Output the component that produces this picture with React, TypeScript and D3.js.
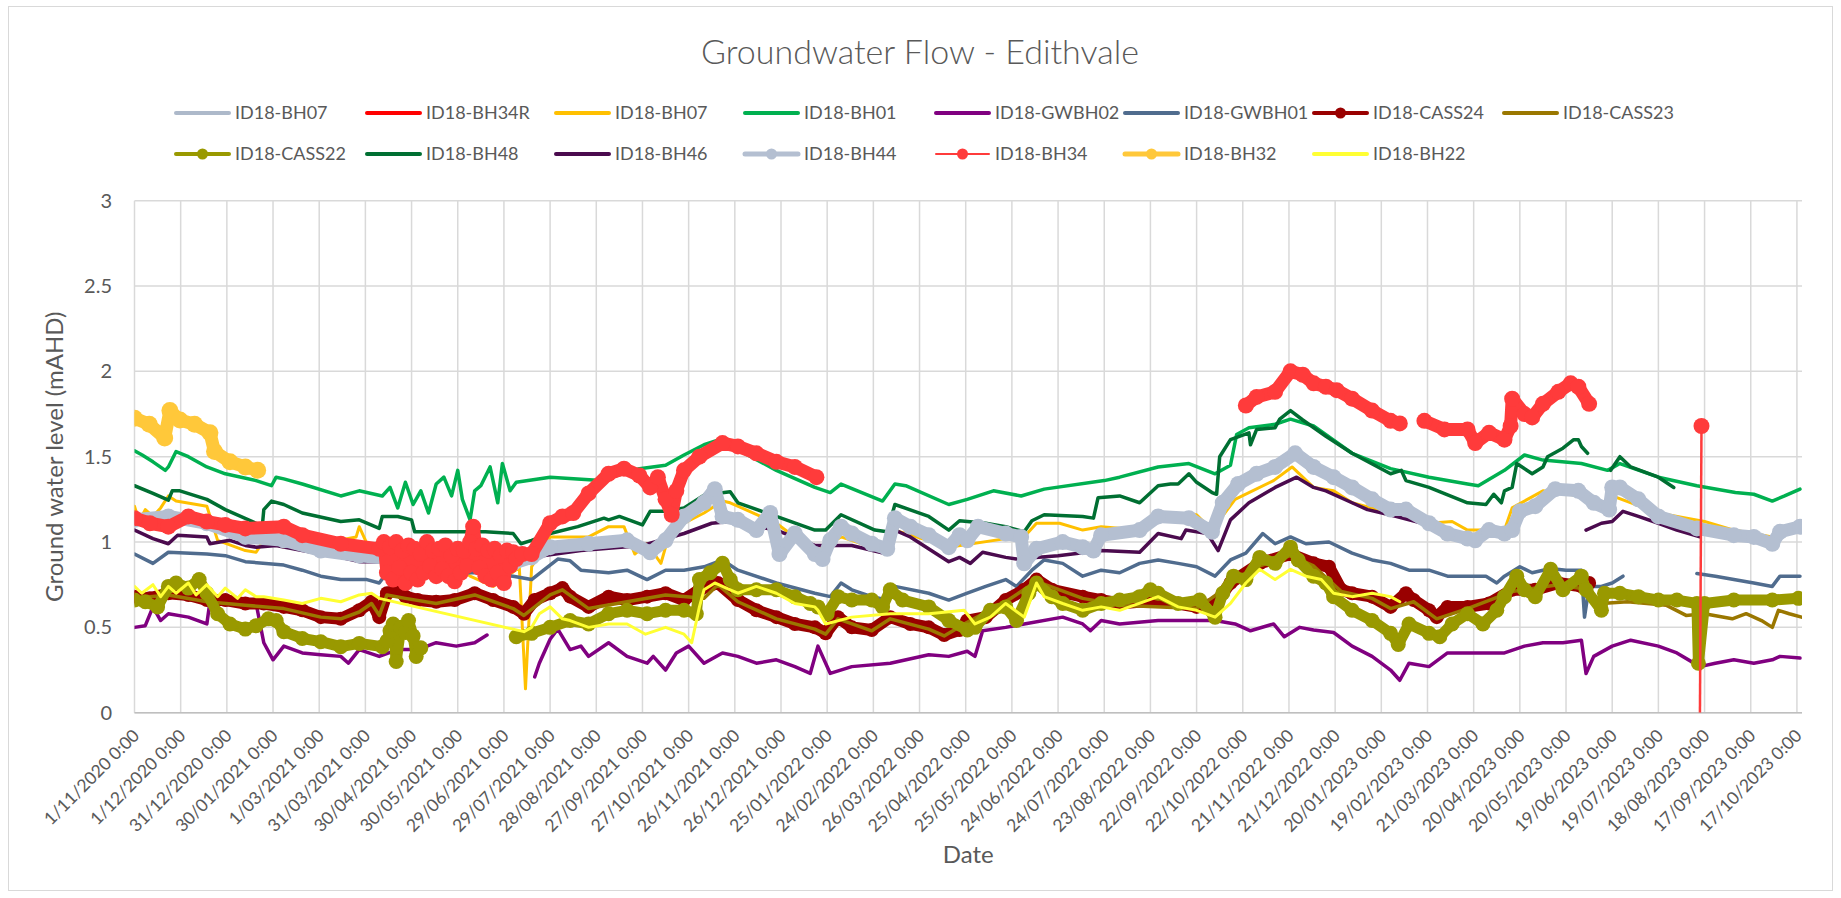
import React, { useEffect, useRef } from 'react';
import * as d3 from 'd3';

// [days since 1/11/2020, level mAHD]; null value = gap in the record
type Pt = [number, number | null];

const W = 1841;
const H = 898;
const FONT = 'Lato, "Open Sans", sans-serif';
const TEXT = '#595959';

const START = new Date(Date.UTC(2020, 10, 1));
const LAST_DAY = 1083.3;

const xTickLabels = [
  '1/11/2020', '1/12/2020', '31/12/2020', '30/01/2021', '1/03/2021', '31/03/2021', '30/04/2021',
  '30/05/2021', '29/06/2021', '29/07/2021', '28/08/2021', '27/09/2021', '27/10/2021', '26/11/2021',
  '26/12/2021', '25/01/2022', '24/02/2022', '26/03/2022', '25/04/2022', '25/05/2022', '24/06/2022',
  '24/07/2022', '23/08/2022', '22/09/2022', '22/10/2022', '21/11/2022', '21/12/2022', '20/01/2023',
  '19/02/2023', '21/03/2023', '20/04/2023', '20/05/2023', '19/06/2023', '19/07/2023', '18/08/2023',
  '17/09/2023', '17/10/2023',
];
const yTicks = [0, 0.5, 1, 1.5, 2, 2.5, 3];

const bh07a: Pt[] = [];
const bh34r: Pt[] = [];

const bh07b: Pt[] = [
  [0, 1.21], [3, 1.12], [7, 1.19], [12, 1.15], [17, 1.2], [22, 1.27], [27, 1.24], [47, 1.21], [54, 1.01],
  [72, 0.95], [79, 0.94], [84, 1.01], [97, 0.97], [121, 0.99], [144, 1.03], [146, 1.09], [151, 0.99],
  [171, 0.97], [200, 0.92], [218, 0.8], [233, 0.74], [250, 0.85], [254, 0.14], [258, 0.855], [270, 1.03],
  [295, 1.03], [308, 1.09], [318, 1.09], [325, 0.93], [333, 0.99], [342, 0.875], [345, 0.97], [357, 1.11],
  [370, 1.17], [382, 1.24], [387, 1.23], [417, 1.11], [442, 0.94], [459, 1.03], [489, 0.94], [494, 1.07],
  [529, 0.97], [566, 1.02], [576, 1.01], [586, 1.11], [601, 1.11], [616, 1.07], [628, 1.09], [653, 1.07],
  [665, 1.17], [690, 1.16], [700, 1.07], [715, 1.25], [740, 1.36], [752, 1.44], [766, 1.32], [779, 1.3],
  [791, 1.23], [816, 1.17], [841, 1.11], [856, 1.12], [866, 1.07], [890, 1.07], [895, 1.2], [915, 1.3],
  [940, 1.27], [953, 1.22], [960, 1.27], [990, 1.17], [1020, 1.12], [1039, 1.07], [1064, 1.03], [1082, 1.07],
];

const bh01: Pt[] = [
  [0, 1.535], [5, 1.51], [12, 1.47], [20, 1.42], [22, 1.44], [27, 1.53], [35, 1.5], [47, 1.44], [59, 1.4],
  [79, 1.36], [89, 1.33], [92, 1.38], [97, 1.37], [109, 1.34], [134, 1.27], [146, 1.3], [161, 1.27],
  [166, 1.32], [171, 1.2], [176, 1.35], [181, 1.22], [186, 1.3], [191, 1.17], [196, 1.34], [201, 1.38],
  [206, 1.27], [210, 1.42], [213, 1.25], [218, 1.13], [221, 1.3], [225, 1.33], [231, 1.44], [236, 1.23],
  [239, 1.46], [244, 1.3], [248, 1.35], [270, 1.38], [303, 1.36], [328, 1.43], [345, 1.45], [357, 1.51],
  [370, 1.57], [380, 1.6], [417, 1.42], [442, 1.32], [452, 1.29], [459, 1.34], [486, 1.24], [494, 1.34],
  [501, 1.33], [529, 1.22], [541, 1.25], [558, 1.3], [576, 1.27], [591, 1.31], [630, 1.36], [640, 1.38],
  [665, 1.44], [685, 1.46], [702, 1.4], [712, 1.45], [716, 1.63], [724, 1.67], [741, 1.69], [751, 1.72],
  [766, 1.68], [791, 1.52], [816, 1.43], [841, 1.38], [866, 1.34], [873, 1.33], [890, 1.42], [903, 1.51],
  [915, 1.48], [940, 1.46], [957, 1.42], [965, 1.46], [990, 1.38], [1015, 1.33], [1040, 1.29], [1052, 1.28],
  [1064, 1.24], [1072, 1.27], [1082, 1.31],
];

const gwbh02: Pt[] = [
  [0, 0.5], [7, 0.51], [12, 0.62], [17, 0.54], [22, 0.58], [35, 0.56], [47, 0.52], [49, 0.65], [59, 0.66],
  [79, 0.64], [84, 0.41], [90, 0.31], [97, 0.39], [109, 0.35], [121, 0.34], [134, 0.33], [139, 0.29],
  [146, 0.37], [159, 0.33], [171, 0.37], [184, 0.37], [196, 0.41], [209, 0.39], [221, 0.41], [229, 0.455],
  [245, null],
  [260, 0.21], [263, 0.29], [270, 0.43], [275, 0.49], [283, 0.37], [290, 0.39], [295, 0.33], [308, 0.41],
  [320, 0.33], [333, 0.29], [337, 0.33], [345, 0.25], [352, 0.35], [360, 0.39], [370, 0.29], [382, 0.35],
  [392, 0.33], [404, 0.29], [417, 0.31], [429, 0.27], [439, 0.23], [444, 0.39], [452, 0.23], [466, 0.27],
  [491, 0.29], [516, 0.34], [529, 0.33], [541, 0.36], [546, 0.33], [551, 0.48], [566, 0.5], [578, 0.52],
  [603, 0.56], [616, 0.52], [621, 0.48], [628, 0.54], [640, 0.52], [665, 0.54], [690, 0.54], [702, 0.54],
  [715, 0.52], [725, 0.48], [740, 0.52], [747, 0.445], [757, 0.5], [766, 0.485], [779, 0.47], [791, 0.39],
  [804, 0.33], [816, 0.25], [822, 0.19], [828, 0.29], [841, 0.27], [853, 0.35], [866, 0.35], [890, 0.35],
  [903, 0.39], [915, 0.41], [928, 0.41], [940, 0.425], [943, 0.23], [948, 0.33], [960, 0.39], [972, 0.425],
  [990, 0.39], [1002, 0.35], [1017, 0.27], [1027, 0.29], [1039, 0.31], [1052, 0.29], [1064, 0.31],
  [1069, 0.33], [1082, 0.32],
];

const gwbh01: Pt[] = [
  [0, 0.93], [12, 0.875], [22, 0.94], [47, 0.93], [59, 0.92], [72, 0.885], [97, 0.865], [109, 0.835],
  [121, 0.8], [134, 0.78], [151, 0.78], [159, 0.76], [164, 0.82], [171, 0.835], [184, 0.82], [221, 0.82],
  [246, 0.8], [258, 0.78], [265, 0.83], [275, 0.9], [283, 0.89], [290, 0.835], [308, 0.82], [320, 0.835],
  [333, 0.78], [345, 0.835], [357, 0.835], [370, 0.855], [382, 0.895], [392, 0.835], [417, 0.76], [442, 0.7],
  [452, 0.68], [459, 0.76], [466, 0.72], [479, 0.68], [489, 0.66], [494, 0.74], [516, 0.7], [529, 0.66],
  [541, 0.7], [553, 0.74], [566, 0.78], [573, 0.74], [583, 0.835], [591, 0.895], [603, 0.875], [616, 0.8],
  [628, 0.835], [640, 0.82], [653, 0.875], [665, 0.895], [678, 0.875], [690, 0.855], [702, 0.8],
  [712, 0.895], [722, 0.935], [733, 1.05], [741, 0.99], [751, 1.03], [761, 0.99], [776, 1.0], [791, 0.935],
  [804, 0.895], [816, 0.875], [828, 0.835], [841, 0.835], [853, 0.8], [866, 0.8], [878, 0.8], [885, 0.76],
  [890, 0.8], [900, 0.855], [908, 0.82], [920, 0.845], [930, 0.835], [940, 0.835], [942, 0.56], [945, 0.74],
  [953, 0.74], [960, 0.76], [967, 0.8],
  [990, null],
  [1015, 0.815], [1027, 0.8], [1039, 0.78], [1052, 0.76], [1064, 0.74], [1069, 0.8], [1082, 0.8],
];

const cass24: Pt[] = [
  [0, 0.68], [10, 0.67], [22, 0.7], [35, 0.69], [47, 0.66], [59, 0.66], [72, 0.64], [84, 0.64], [97, 0.62],
  [109, 0.6], [121, 0.56], [134, 0.55], [146, 0.6], [154, 0.65], [159, 0.56], [164, 0.7], [171, 0.72],
  [176, 0.68], [184, 0.66], [196, 0.65], [208, 0.66], [221, 0.7], [233, 0.66], [246, 0.62], [253, 0.58],
  [260, 0.66], [270, 0.7], [278, 0.73], [283, 0.68], [295, 0.62], [308, 0.68], [320, 0.66], [333, 0.68],
  [345, 0.7], [357, 0.66], [367, 0.72], [379, 0.76], [392, 0.66], [404, 0.6], [417, 0.56], [429, 0.52],
  [442, 0.5], [449, 0.465], [457, 0.56], [466, 0.5], [479, 0.485], [491, 0.56], [504, 0.52], [516, 0.5],
  [526, 0.455], [536, 0.485], [541, 0.54], [553, 0.56], [566, 0.66], [578, 0.72], [586, 0.78], [596, 0.72],
  [616, 0.68], [628, 0.66], [640, 0.64], [665, 0.66], [690, 0.62], [702, 0.64], [712, 0.76], [731, 0.875],
  [751, 0.93], [766, 0.875], [776, 0.855], [784, 0.72], [791, 0.7], [804, 0.68], [816, 0.62], [826, 0.7],
  [831, 0.66], [841, 0.6], [846, 0.56], [853, 0.62], [866, 0.62], [880, 0.64], [895, 0.72], [910, 0.72],
  [925, 0.76], [940, 0.74], [945, 0.76],
];

const cass23: Pt[] = [
  [0, 0.67], [22, 0.69], [47, 0.65], [72, 0.63], [97, 0.61], [121, 0.56], [134, 0.55], [146, 0.59],
  [154, 0.64], [159, 0.57], [164, 0.69], [176, 0.67], [196, 0.64], [221, 0.69], [246, 0.61], [253, 0.57],
  [270, 0.69], [278, 0.72], [295, 0.61], [320, 0.65], [345, 0.69], [370, 0.67], [379, 0.75], [392, 0.65],
  [417, 0.55], [442, 0.49], [449, 0.46], [457, 0.55], [479, 0.48], [491, 0.55], [516, 0.49], [526, 0.45],
  [541, 0.53], [566, 0.65], [586, 0.77], [616, 0.67], [640, 0.63], [690, 0.61], [712, 0.75], [731, 0.86],
  [751, 0.92], [766, 0.86], [784, 0.71], [804, 0.67], [816, 0.61], [831, 0.65], [846, 0.55], [866, 0.61],
  [895, 0.71], [925, 0.75], [945, 0.72], [953, 0.64], [970, 0.65], [995, 0.63], [1008, 0.57], [1020, 0.58],
  [1038, 0.55], [1047, 0.58], [1057, 0.54], [1064, 0.5], [1068, 0.6], [1075, 0.58], [1083, 0.56],
];

const cass22: Pt[] = [
  [0, 0.66], [7, 0.65], [15, 0.62], [22, 0.74], [27, 0.76], [35, 0.73], [42, 0.78], [47, 0.7], [54, 0.58],
  [62, 0.52], [72, 0.49], [79, 0.51], [87, 0.55], [92, 0.54], [97, 0.475], [109, 0.435], [121, 0.416],
  [134, 0.387], [146, 0.406], [161, 0.387], [164, 0.42], [166, 0.48], [168, 0.52], [170, 0.3], [173, 0.5],
  [176, 0.47], [178, 0.54], [181, 0.45], [183, 0.33], [186, 0.38],
  [215, null],
  [248, 0.445], [258, 0.465], [270, 0.5], [283, 0.54], [295, 0.52], [308, 0.58], [320, 0.6], [333, 0.58],
  [345, 0.6], [357, 0.6], [365, 0.58], [367, 0.78], [374, 0.82], [382, 0.875], [387, 0.78], [392, 0.72],
  [404, 0.72], [417, 0.72], [429, 0.68], [439, 0.64], [444, 0.62], [450, 0.58], [457, 0.68], [466, 0.66],
  [479, 0.66], [486, 0.62], [491, 0.72], [499, 0.66], [516, 0.62], [529, 0.54], [541, 0.485], [546, 0.5],
  [556, 0.6], [566, 0.62], [573, 0.54], [581, 0.7], [586, 0.76], [596, 0.68], [603, 0.64], [616, 0.6],
  [628, 0.64], [640, 0.66], [653, 0.68], [660, 0.72], [665, 0.7], [678, 0.64], [692, 0.66], [702, 0.56],
  [707, 0.7], [714, 0.8], [722, 0.78], [731, 0.91], [741, 0.875], [751, 0.97], [756, 0.895], [766, 0.8],
  [774, 0.76], [779, 0.68], [791, 0.6], [804, 0.54], [816, 0.465], [821, 0.4], [828, 0.52], [841, 0.465],
  [848, 0.445], [856, 0.52], [866, 0.58], [876, 0.52], [885, 0.6], [890, 0.68], [898, 0.8], [903, 0.72],
  [910, 0.68], [920, 0.84], [928, 0.72], [940, 0.8], [943, 0.72], [953, 0.6], [955, 0.7], [965, 0.7],
  [977, 0.68], [990, 0.66], [1002, 0.66], [1015, 0.64], [1016, 0.29], [1020, 0.64], [1039, 0.66],
  [1064, 0.66], [1081, 0.67],
];

const bh48: Pt[] = [
  [0, 1.33], [12, 1.285], [22, 1.245], [24.5, 1.3], [29.5, 1.3], [47, 1.25], [59, 1.19], [79, 1.11],
  [83, 1.09], [84, 1.19], [89, 1.24], [97, 1.22], [109, 1.17], [134, 1.12], [146, 1.13], [159, 1.08],
  [161, 1.15], [171, 1.15], [180, 1.13], [182, 1.06], [228, 1.06], [246, 1.05], [251, 0.99], [258, 1.01],
  [270, 1.05], [288, 1.09], [305, 1.14], [308, 1.13], [315, 1.15], [330, 1.1], [335, 1.18], [345, 1.18],
  [357, 1.2], [370, 1.275], [387, 1.295], [392, 1.23], [417, 1.15], [442, 1.07], [449, 1.07], [459, 1.16],
  [481, 1.07], [489, 1.06], [494, 1.22], [516, 1.15], [529, 1.07], [536, 1.125], [553, 1.11], [566, 1.09],
  [578, 1.06], [583, 1.125], [591, 1.16], [616, 1.15], [623, 1.14], [626, 1.26], [640, 1.27], [653, 1.23],
  [665, 1.33], [673, 1.34], [678, 1.34], [685, 1.4], [690, 1.35], [700, 1.29], [703, 1.28], [705, 1.5],
  [712, 1.6], [724, 1.64], [725, 1.57], [729, 1.66], [741, 1.67], [744, 1.72], [751, 1.77], [759, 1.715],
  [774, 1.62], [791, 1.52], [816, 1.4], [823, 1.42], [826, 1.36], [841, 1.32], [866, 1.23], [878, 1.22],
  [883, 1.28], [888, 1.23], [890, 1.3], [895, 1.32], [898, 1.46], [908, 1.4], [915, 1.44], [918, 1.5],
  [928, 1.55], [935, 1.6], [938, 1.6], [940, 1.56], [944, 1.52],
  [952, null],
  [959, 1.42], [965, 1.5], [972, 1.44], [990, 1.38], [1000, 1.32],
];

const bh46: Pt[] = [
  [0, 1.07], [12, 1.02], [22, 0.99], [28, 1.04], [47, 1.03], [49, 0.99], [62, 1.01], [72, 0.98], [79, 0.97],
  [92, 0.98], [97, 0.97], [109, 0.95], [134, 0.91], [146, 0.885], [159, 0.885], [180, 0.87], [220, 0.86],
  [250, 0.9], [290, 0.95], [330, 0.98], [357, 1.05], [375, 1.11], [387, 1.12], [417, 1.07], [442, 0.98],
  [466, 0.98], [489, 0.93], [494, 1.07], [504, 1.03], [529, 0.885], [536, 0.91], [543, 0.875], [551, 0.94],
  [566, 0.91], [573, 0.9], [600, 0.92], [628, 0.95], [653, 0.94], [665, 1.05], [680, 1.02], [683, 1.07],
  [697, 1.05], [704, 0.95], [712, 1.13], [724, 1.23], [741, 1.32], [755, 1.38], [766, 1.32], [774, 1.3],
  [791, 1.23], [801, 1.19], [820, 1.15], [841, 1.1],
  [900, null],
  [943, 1.07], [953, 1.11], [960, 1.12], [967, 1.18], [977, 1.15], [990, 1.11], [1002, 1.07], [1017, 1.03],
];

const bh44: Pt[] = [
  [0, 1.13], [22, 1.15], [47, 1.11], [72, 1.03], [97, 1.01], [121, 0.95], [146, 0.92], [171, 0.9],
  [200, 0.88], [246, 0.875], [258, 0.91], [270, 0.97], [295, 0.99], [320, 1.01], [335, 0.94], [345, 1.01],
  [357, 1.15], [370, 1.23], [377, 1.31], [382, 1.15], [392, 1.13], [404, 1.07], [413, 1.17], [419, 0.93],
  [429, 1.05], [442, 0.93], [447, 0.9], [452, 1.01], [459, 1.09], [466, 1.05], [479, 0.99], [489, 0.96],
  [494, 1.14], [504, 1.09], [516, 1.04], [529, 0.97], [536, 1.04], [541, 1.01], [548, 1.09], [566, 1.05],
  [576, 1.03], [578, 0.875], [586, 0.96], [603, 1.0], [616, 0.97], [623, 0.95], [628, 1.04], [653, 1.07],
  [665, 1.15], [685, 1.14], [700, 1.06], [707, 1.23], [717, 1.34], [729, 1.4], [741, 1.44], [754, 1.52],
  [766, 1.44], [779, 1.38], [791, 1.32], [804, 1.25], [816, 1.19], [826, 1.19], [841, 1.11], [853, 1.05],
  [866, 1.02], [871, 1.01], [880, 1.07], [890, 1.05], [895, 1.07], [900, 1.18], [910, 1.21], [923, 1.31],
  [938, 1.3], [948, 1.23], [958, 1.19], [960, 1.32], [965, 1.32], [977, 1.25], [990, 1.15], [1015, 1.08],
  [1039, 1.04], [1052, 1.03], [1064, 0.99], [1069, 1.06], [1082, 1.09],
];

const bh34: Pt[] = [
  [0, 1.14], [10, 1.11], [22, 1.09], [35, 1.15], [47, 1.12], [59, 1.1], [72, 1.08], [97, 1.09], [109, 1.04],
  [134, 0.99], [159, 0.96], [162, 1.0], [164, 0.82], [166, 0.97], [168, 0.78], [170, 1.0], [172, 0.85],
  [174, 0.95], [176, 0.76], [178, 0.98], [180, 0.82], [182, 0.96], [184, 0.78], [186, 0.93], [188, 0.82],
  [190, 1.0], [192, 0.86], [194, 0.95], [196, 0.8], [198, 0.96], [200, 0.84], [202, 0.98], [204, 0.8],
  [206, 0.92], [208, 0.77], [210, 0.96], [212, 0.82], [214, 0.95], [216, 0.86], [218, 1.0], [220, 1.09],
  [222, 0.96], [224, 0.85], [226, 0.98], [228, 0.8], [230, 0.95], [232, 0.78], [234, 0.96], [236, 0.82],
  [238, 0.92], [240, 0.76], [242, 0.95], [244, 0.86], [246, 0.94], [248, 0.9], [252, 0.93], [258, 0.93],
  [270, 1.11], [278, 1.15], [285, 1.17], [295, 1.285], [308, 1.4], [318, 1.43], [328, 1.39], [335, 1.32],
  [340, 1.38], [345, 1.25], [349, 1.16], [352, 1.3], [357, 1.42], [367, 1.5], [382, 1.58], [392, 1.56],
  [404, 1.52], [417, 1.47], [429, 1.44], [443, 1.38],
  [600, null],
  [722, 1.8], [729, 1.85], [741, 1.88], [751, 2.0], [759, 1.98], [766, 1.93], [774, 1.91], [781, 1.89],
  [791, 1.84], [804, 1.77], [816, 1.71], [822, 1.695],
  [830, null],
  [838, 1.71], [851, 1.66], [866, 1.66], [871, 1.58], [880, 1.64], [890, 1.6], [894, 1.68], [895, 1.84],
  [903, 1.75], [908, 1.73], [915, 1.81], [925, 1.88], [933, 1.93], [938, 1.91], [945, 1.81],
];
const bh34Tail: Pt[] = [[1018, 1.68], [1017, 0]];

const bh32: Pt[] = [
  [0, 1.725], [9.6, 1.69], [19.6, 1.61], [23, 1.77], [29.5, 1.715], [39, 1.69], [49, 1.64], [52, 1.53],
  [62, 1.47], [72, 1.44], [80, 1.42],
];

const bh22: Pt[] = [
  [0, 0.74], [4.7, 0.7], [12, 0.75], [17, 0.68], [22, 0.74], [27, 0.7], [35, 0.76], [40, 0.69], [47, 0.75],
  [54, 0.68], [59, 0.73], [67, 0.67], [72, 0.72], [79, 0.68], [84, 0.68], [97, 0.66], [109, 0.64],
  [121, 0.67], [134, 0.65], [146, 0.69], [154, 0.7], [159, 0.67], [253, 0.475], [258, 0.5], [263, 0.58],
  [270, 0.62], [278, 0.55], [283, 0.54], [295, 0.5], [308, 0.52], [320, 0.52], [332, 0.46], [345, 0.5],
  [357, 0.46], [362, 0.41], [367, 0.62], [370, 0.72], [377, 0.76], [387, 0.72], [392, 0.7], [404, 0.74],
  [417, 0.7], [429, 0.64], [442, 0.62], [444, 0.6], [449, 0.52], [466, 0.56], [491, 0.58], [516, 0.58],
  [539, 0.6], [546, 0.52], [556, 0.56], [566, 0.64], [578, 0.56], [586, 0.76], [591, 0.68], [603, 0.64],
  [616, 0.6], [628, 0.62], [640, 0.6], [665, 0.68], [678, 0.62], [690, 0.6], [702, 0.56], [712, 0.64],
  [722, 0.76], [731, 0.84], [741, 0.78], [751, 0.84], [761, 0.8], [771, 0.78], [779, 0.7], [791, 0.68],
  [804, 0.7], [816, 0.68], [822, 0.65],
];

interface Series {
  name: string;
  color: string;
  data: Pt[];
  width: number;
  r: number;
  legendWidth: number;
}

const series: Series[] = [
  { name: 'ID18-BH07', color: '#ADB9CA', data: bh07a, width: 3.5, r: 0, legendWidth: 4 },
  { name: 'ID18-BH34R', color: '#FF0000', data: bh34r, width: 3.5, r: 0, legendWidth: 4 },
  { name: 'ID18-BH07', color: '#FFC000', data: bh07b, width: 3, r: 0, legendWidth: 4 },
  { name: 'ID18-BH01', color: '#00B050', data: bh01, width: 3.5, r: 0, legendWidth: 4 },
  { name: 'ID18-GWBH02', color: '#800080', data: gwbh02, width: 3.5, r: 0, legendWidth: 4 },
  { name: 'ID18-GWBH01', color: '#506C8E', data: gwbh01, width: 3.5, r: 0, legendWidth: 4 },
  { name: 'ID18-CASS24', color: '#990000', data: cass24, width: 12, r: 7, legendWidth: 4 },
  { name: 'ID18-CASS23', color: '#9A7700', data: cass23, width: 3.5, r: 0, legendWidth: 4 },
  { name: 'ID18-CASS22', color: '#999900', data: cass22, width: 11, r: 7.5, legendWidth: 4 },
  { name: 'ID18-BH48', color: '#006F32', data: bh48, width: 3.5, r: 0, legendWidth: 4 },
  { name: 'ID18-BH46', color: '#4B0B4E', data: bh46, width: 3.5, r: 0, legendWidth: 4 },
  { name: 'ID18-BH44', color: '#B4BFD1', data: bh44, width: 13, r: 8, legendWidth: 5 },
  { name: 'ID18-BH34', color: '#FF3B3B', data: bh34, width: 13, r: 8, legendWidth: 2 },
  { name: 'ID18-BH32', color: '#FFC83A', data: bh32, width: 13, r: 8.5, legendWidth: 5 },
  { name: 'ID18-BH22', color: '#FFFF33', data: bh22, width: 3, r: 0, legendWidth: 4 },
];

const legendCols = [176, 367, 556, 745, 936, 1125, 1314, 1504];
const legendRows = [113, 154];

const dayToDate = (d: number) => new Date(START.getTime() + d * 864e5);

export default function App() {
  const svgRef = useRef<SVGSVGElement>(null);

  useEffect(() => {
    if (!svgRef.current) return;
    const svg = d3.select(svgRef.current);
    svg.selectAll('*').remove();

    const plot = { left: 134.5, right: 1802, top: 200.7, bottom: 712.7 };

    const x = d3.scaleUtc()
      .domain([START, dayToDate(LAST_DAY)])
      .range([plot.left, plot.right]);
    const y = d3.scaleLinear().domain([0, 3]).range([plot.bottom, plot.top]);

    // chart area
    svg.append('rect')
      .attr('x', 8.5).attr('y', 6.5)
      .attr('width', 1824).attr('height', 884)
      .attr('fill', '#fff')
      .attr('stroke', '#D9D9D9');

    svg.append('text')
      .attr('x', 920).attr('y', 64)
      .attr('text-anchor', 'middle')
      .attr('font-family', FONT).attr('font-size', 34).attr('font-weight', 300)
      .attr('fill', TEXT)
      .text('Groundwater Flow - Edithvale');

    // legend
    const legend = svg.append('g');
    series.forEach((s, i) => {
      const row = i < 8 ? 0 : 1;
      const col = i < 8 ? i : i - 8;
      const lx = legendCols[col];
      const ly = legendRows[row];
      const g = legend.append('g');
      g.append('line')
        .attr('x1', lx).attr('x2', lx + 53)
        .attr('y1', ly).attr('y2', ly)
        .attr('stroke', s.color).attr('stroke-width', s.legendWidth)
        .attr('stroke-linecap', 'round');
      if (s.r > 0) {
        g.append('circle').attr('cx', lx + 26.5).attr('cy', ly).attr('r', 5.5).attr('fill', s.color);
      }
      g.append('text')
        .attr('x', lx + 59).attr('y', ly)
        .attr('dy', '0.35em')
        .attr('font-family', FONT).attr('font-size', 18)
        .attr('fill', TEXT)
        .text(s.name);
    });

    const parseTick = d3.utcParse('%d/%m/%Y');
    const tickDates = xTickLabels.map(l => parseTick(l) as Date);

    // gridlines
    const grid = svg.append('g').attr('stroke', '#D9D9D9').attr('stroke-width', 1.5);
    yTicks.forEach(v => {
      grid.append('line')
        .attr('x1', plot.left).attr('x2', plot.right)
        .attr('y1', y(v)).attr('y2', y(v));
    });
    tickDates.forEach(t => {
      grid.append('line')
        .attr('x1', x(t)).attr('x2', x(t))
        .attr('y1', plot.top).attr('y2', plot.bottom);
    });
    svg.append('line')
      .attr('x1', plot.left).attr('x2', plot.right)
      .attr('y1', plot.bottom).attr('y2', plot.bottom)
      .attr('stroke', '#BFBFBF').attr('stroke-width', 1.5);

    // axis labels
    svg.append('g').selectAll('text')
      .data(yTicks)
      .join('text')
      .attr('x', 112).attr('y', d => y(d))
      .attr('dy', '0.35em')
      .attr('text-anchor', 'end')
      .attr('font-family', FONT).attr('font-size', 20)
      .attr('fill', TEXT)
      .text(d => d3.format('~g')(d));

    svg.append('g').selectAll('text')
      .data(tickDates)
      .join('text')
      .attr('transform', d => `translate(${x(d) + 6},${plot.bottom + 24}) rotate(-45)`)
      .attr('text-anchor', 'end')
      .attr('font-family', FONT).attr('font-size', 17.5)
      .attr('fill', TEXT)
      .text((_, i) => `${xTickLabels[i]} 0:00`);

    svg.append('text')
      .attr('transform', `translate(55,${(plot.top + plot.bottom) / 2}) rotate(-90)`)
      .attr('text-anchor', 'middle').attr('dy', '0.35em')
      .attr('font-family', FONT).attr('font-size', 24)
      .attr('fill', TEXT)
      .text('Ground water level (mAHD)');

    svg.append('text')
      .attr('x', (plot.left + plot.right) / 2).attr('y', 855)
      .attr('text-anchor', 'middle').attr('dy', '0.35em')
      .attr('font-family', FONT).attr('font-size', 24)
      .attr('fill', TEXT)
      .text('Date');

    // series
    svg.append('clipPath').attr('id', 'plot-clip')
      .append('rect')
      .attr('x', plot.left).attr('y', plot.top - 10)
      .attr('width', plot.right - plot.left).attr('height', plot.bottom - plot.top + 10);

    const body = svg.append('g').attr('clip-path', 'url(#plot-clip)');
    const line = d3.line<Pt>()
      .defined(d => d[1] !== null)
      .x(d => x(dayToDate(d[0])))
      .y(d => y(d[1] as number));

    series.forEach(s => {
      const g = body.append('g');
      g.append('path')
        .datum(s.data)
        .attr('fill', 'none')
        .attr('stroke', s.color)
        .attr('stroke-width', s.width)
        .attr('stroke-linejoin', 'round')
        .attr('stroke-linecap', 'round')
        .attr('d', line);
      if (s.r > 0) {
        g.selectAll('circle')
          .data(s.data.filter(d => d[1] !== null))
          .join('circle')
          .attr('cx', d => x(dayToDate(d[0])))
          .attr('cy', d => y(d[1] as number))
          .attr('r', s.r)
          .attr('fill', s.color);
      }
      if (s.name === 'ID18-BH34') {
        g.append('path')
          .datum(bh34Tail)
          .attr('fill', 'none')
          .attr('stroke', s.color)
          .attr('stroke-width', 2.5)
          .attr('d', line);
        g.append('circle')
          .attr('cx', x(dayToDate(bh34Tail[0][0])))
          .attr('cy', y(bh34Tail[0][1] as number))
          .attr('r', s.r)
          .attr('fill', s.color);
      }
    });
  }, []);

  return (
    <svg
      ref={svgRef}
      width={W}
      height={H}
      style={{ position: 'absolute', left: 0, top: 0, background: '#fff' }}
    />
  );
}
